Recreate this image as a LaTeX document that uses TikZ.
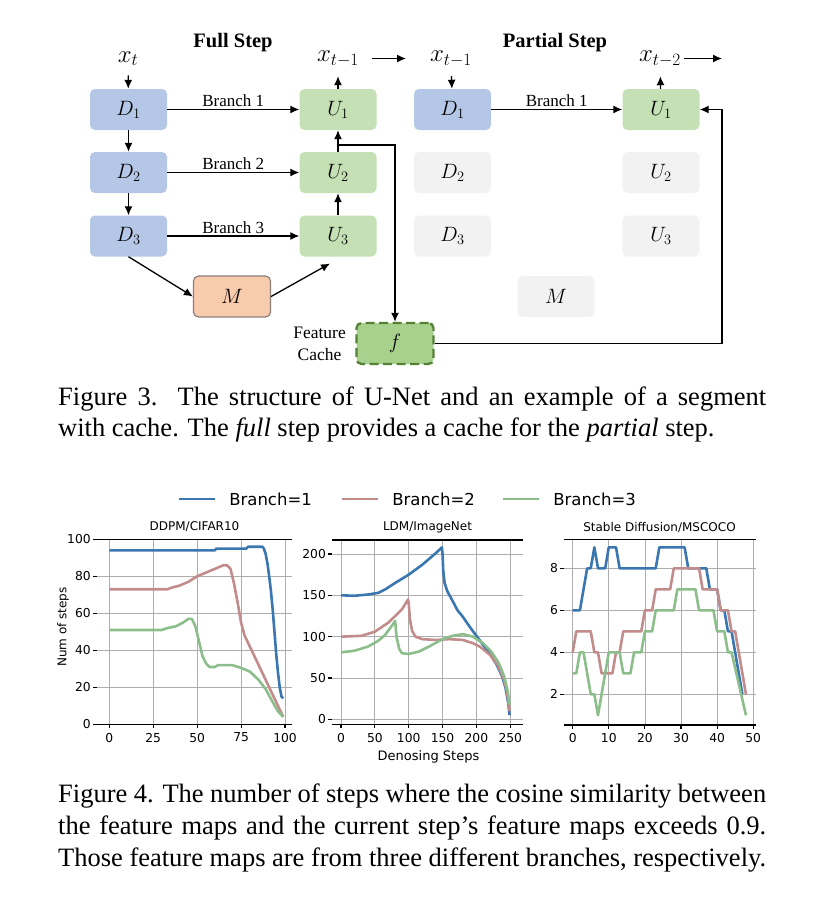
\documentclass[tikz,border=0pt]{standalone}
\usepackage{fontspec}
\setmainfont{Liberation Serif}
\newfontfamily\plotfont{DejaVu Sans}
\usepackage{amsmath}
\usepackage{tikz}
\usetikzlibrary{arrows.meta,positioning,calc}
\definecolor{DownBlue}{HTML}{B4C7E7}
\definecolor{UpGreen}{HTML}{C5E0B4}
\definecolor{MidOrange}{HTML}{F8CBAD}
\definecolor{MidEdge}{HTML}{8C7F7A}
\definecolor{SkipGray}{HTML}{F2F2F2}
\definecolor{CacheGreen}{HTML}{A9D18E}
\definecolor{CacheEdge}{HTML}{548235}
\definecolor{LineBlue}{RGB}{58,118,176}
\definecolor{LinePink}{RGB}{194,140,140}
\definecolor{LineGreen}{RGB}{140,190,140}

\begin{document}
\begin{tikzpicture}[x=1pt,y=-1pt,
  blk/.style={rounded corners=5pt,minimum width=77pt,minimum height=41pt,inner sep=0pt,font=\fontsize{19.5}{22}\selectfont},
  down/.style={blk,fill=DownBlue},
  up/.style={blk,fill=UpGreen},
  idle/.style={blk,fill=SkipGray},
  arr/.style={-{Latex[length=9pt,width=8pt]},line width=1.3pt},
  brlbl/.style={font=\fontsize{17}{19}\selectfont,inner sep=2pt},
  xlbl/.style={font=\fontsize{25}{27}\selectfont,anchor=base},
  hd/.style={font=\bfseries\fontsize{20.5}{24}\selectfont},
  capline/.style={anchor=base west,inner sep=0pt,font=\fontsize{26.5}{31}\selectfont},
  gridln/.style={black!32,line width=0.8pt},
  spine/.style={black,line width=1.1pt},
  ticklbl/.style={font=\plotfont\fontsize{12.3}{14}\selectfont,inner sep=0.5pt},
  ttl/.style={font=\plotfont\fontsize{12}{14}\selectfont,inner sep=0pt},
  legtxt/.style={font=\plotfont\fontsize{16.5}{18}\selectfont,text=black,inner sep=0pt,anchor=west,xshift=13pt},
  curve/.style={line width=2.6pt,line join=round}]
\useasboundingbox (0,0) rectangle (822,906);

\node[hd] (fullhd) at (233,43) {Full Step};
\node[hd] (parthd) at (555,43) {Partial Step};
\node[xlbl] (xt) at (128,62) {$x_t$};
\node[xlbl] (xt1) at (338,61.5) {$x_{t-1}$};
\node[xlbl] (pxt1) at (451,61.5) {$x_{t-1}$};
\node[xlbl] (pxt2) at (660,61.5) {$x_{t-2}$};

\foreach \i/\y in {1/109.5,2/172.5,3/236}{
  \node[down] (d\i) at (128.5,\y) {$D_\i$};
  \node[up] (u\i) at (338,\y) {$U_\i$};
  \draw[arr] (d\i) -- node[brlbl,above] (br\i) {Branch \i} (u\i);
}
\node[blk,fill=MidOrange,draw=MidEdge,line width=1.2pt] (mid) at (232,296.5) {$M$};

\node[down] (pd1) at (452.5,109.5) {$D_1$};
\node[up] (pu1) at (661,109.5) {$U_1$};
\foreach \i/\y in {2/172.5,3/236}{
  \node[idle] (pd\i) at (452.5,\y) {$D_\i$};
  \node[idle] (pu\i) at (661,\y) {$U_\i$};
}
\node[idle] (pmid) at (556,296.5) {$M$};
\draw[arr] (pd1) -- node[brlbl,above] (pbr1) {Branch 1} (pu1);

\node[blk,fill=CacheGreen,draw=CacheEdge,line width=2.3pt,dash pattern=on 9pt off 4.5pt] (cache) at (395,343.5) {$f$};
\node[left=6pt of cache,align=center,font=\fontsize{17.5}{22}\selectfont] (cachetxt) {Feature\\Cache};

\coordinate (u3in) at (330,263.5);
\coordinate (tap) at (338,145);
\coordinate (turn) at (722,343.5);
\coordinate (gofwd) at (406,58.5);
\coordinate (gonext) at (722,58.5);

\draw[arr,shorten <=6pt] (xt) -- (d1);
\draw[arr] (d1) -- (d2);
\draw[arr] (d2) -- (d3);
\draw[arr] (d3.south) -- (mid.west);
\draw[arr] (mid.east) -- (u3in);
\draw[arr] (u3) -- (u2);
\draw[arr] (u2) -- (u1);
\draw[arr,shorten >=6pt] (u1) -- (xt1);
\draw[arr] ([xshift=10pt]xt1.east |- gofwd) -- (gofwd);
\draw[arr,shorten <=6pt] (pxt1) -- (pd1);
\draw[arr,shorten >=6pt] (pu1) -- (pxt2);
\draw[arr] (pxt2.east |- gonext) -- (gonext);
\draw[arr] (tap) -| (cache);
\draw[arr] (cache) -- (turn) |- (pu1);

\node[capline] (cap3a) at (58,405) {\makebox[708pt][s]{Figure 3.\ \ The structure of U-Net and an example of a segment}};
\node[capline] (cap3b) at (58,436.7) {with cache. The \textit{full} step provides a cache for the \textit{partial} step.};

\foreach \c/\n/\a in {LineBlue/1/179,LinePink/2/342,LineGreen/3/503}{
  \draw[curve,\c] (\a,499) -- ++(36,0) node[legtxt] (leg\n) {Branch=\n};
}

\node[ttl] (t1) at (194.5,527) {DDPM/CIFAR10};
\node[ttl] (t2) at (427.5,527) {LDM/ImageNet};
\node[ttl] (t3) at (659.5,527) {Stable Diffusion/MSCOCO};
\node[ttl,rotate=90] (ylab) at (63,627) {Num of steps};
\node[ttl,font=\plotfont\fontsize{13}{15}\selectfont] (xlab) at (428.5,757) {Denosing Steps};

\begin{scope}[shift={(109.3,724.3)},x=1.757pt,y=1.85pt]
  \foreach \v in {0,25,...,100}{
    \draw[gridln] (\v,0) -- (\v,100);
    \draw[spine] (\v,0) -- (\v,-2.2);
    \node[ticklbl,anchor=north] (ax\v) at (\v,-4.3) {\v};
  }
  \foreach \v in {0,20,...,100}{
    \draw[gridln] (-7,\v) -- (104,\v);
    \draw[spine] (-7,\v) -- (-9.3,\v);
    \node[ticklbl,anchor=east] (ay\v) at (-10.2,\v) {\v};
  }
  \draw[spine] (-7,0) -- (104,0) (-7,100) -- (104,100);
  \draw[curve,LineBlue] plot coordinates {(0,94) (60,94) (61,95) (78,95) (79,96) (87,96) (88,95) (89,92) (90,87) (91,80) (92,72) (93,62) (94,50) (95,38) (96,28) (97,20) (98,15) (99,14)};
  \draw[curve,LinePink] plot coordinates {(0,73) (33,73) (36,74) (40,75) (45,77) (50,80) (55,82) (60,84) (65,86) (67,86) (69,84) (71,76) (73,66) (75,55) (77,48) (80,42) (83,36) (86,30) (90,22) (94,14) (97,8) (99,4)};
  \draw[curve,LineGreen] plot coordinates {(0,51) (30,51) (33,52) (38,53) (42,55) (45,57) (47,57) (49,53) (51,45) (53,37) (55,33) (57,31) (60,31) (62,32) (70,32) (75,30.5) (80,28.5) (85,24) (89,19) (93,12) (96,7) (99,4)};
\end{scope}

\begin{scope}[shift={(341,719.3)},x=0.677pt,y=0.8265pt]
  \foreach \v in {0,50,...,250}{
    \draw[gridln] (\v,-6.05) -- (\v,216.9);
    \draw[spine] (\v,-6.05) -- (\v,-10.9);
    \node[ticklbl,anchor=north] (bx\v) at (\v,-15.7) {\v};
  }
  \foreach \v in {0,50,...,200}{
    \draw[gridln] (-13.3,\v) -- (268.8,\v);
    \draw[spine] (-13.3,\v) -- (-19.2,\v);
    \node[ticklbl,anchor=east] (by\v) at (-21.3,\v) {\v};
  }
  \draw[spine] (-13.3,-6.05) -- (268.8,-6.05) (-13.3,216.9) -- (268.8,216.9);
  \draw[curve,LineBlue] plot coordinates {(0,150) (20,149.5) (40,151) (55,153) (65,157) (80,165) (100,175) (120,187) (140,201) (149,208) (150,200) (151,180) (153,165) (157,155) (165,143) (172,132) (180,124) (190,112) (200,101) (210,90) (220,79) (230,66) (238,52) (243,38) (247,20) (249,5)};
  \draw[curve,LinePink] plot coordinates {(0,100) (30,101) (50,106) (70,117) (90,133) (99,145) (100,140) (102,120) (105,107) (110,100) (120,97) (140,96) (160,97) (180,96) (195,92) (205,88) (220,78) (232,65) (240,50) (245,35) (249,10)};
  \draw[curve,LineGreen] plot coordinates {(0,81) (20,83) (40,88) (55,95) (65,102) (75,113) (80,119) (82,100) (86,85) (90,80) (100,79) (115,82) (130,88) (150,97) (165,101) (180,103) (195,100) (210,92) (222,82) (233,68) (241,52) (246,35) (249,18)};
\end{scope}

\begin{scope}[shift={(572.7,736.3)},x=3.61pt,y=21pt]
  \foreach \v in {0,10,...,50}{
    \draw[gridln] (\v,0.538) -- (\v,9.38);
    \draw[spine] (\v,0.538) -- (\v,0.348);
    \node[ticklbl,anchor=north] (cx\v) at (\v,0.19) {\v};
  }
  \foreach \v in {2,4,...,8}{
    \draw[gridln] (-2.41,\v) -- (50.8,\v);
    \draw[spine] (-2.41,\v) -- (-3.52,\v);
    \node[ticklbl,anchor=east] (cy\v) at (-3.9,\v) {\v};
  }
  \draw[spine] (-2.41,0.538) -- (50.8,0.538) (-2.41,9.38) -- (50.8,9.38);
  \draw[curve,LineBlue] plot coordinates {(0,6) (2,6) (3,7) (4,8) (5,8) (6,9) (7,8) (9,8) (10,9) (12,9) (13,8) (23,8) (24,9) (31,9) (32,8) (37,8) (38,7) (40,7) (41,6) (42,6) (43,5) (44,5) (47,2)};
  \draw[curve,LinePink] plot coordinates {(0,4) (1,5) (5,5) (6,4) (7,4) (8,3) (11,3) (12,4) (13,4) (14,5) (19,5) (20,6) (22,6) (23,7) (27,7) (28,8) (35,8) (36,7) (40,7) (41,6) (43,6) (44,5) (45,5) (48,2)};
  \draw[curve,LineGreen] plot coordinates {(0,3) (1,3) (2,4) (3,4) (4,3) (5,2) (6,2) (7,1) (8,2) (9,3) (10,4) (13,4) (14,3) (16,3) (17,4) (19,4) (20,5) (22,5) (23,6) (28,6) (29,7) (34,7) (35,6) (39,6) (40,5) (42,5) (43,4) (44,4) (48,1)};
\end{scope}

\node[capline] (cap4a) at (58,802.7) {\makebox[708pt][s]{Figure 4. The number of steps where the cosine similarity between}};
\node[capline] (cap4b) at (58,834.7) {\makebox[708pt][s]{the feature maps and the current step's feature maps exceeds 0.9.}};
\node[capline] (cap4c) at (58,866.7) {\makebox[708pt][s]{Those feature maps are from three different branches, respectively.}};
\end{tikzpicture}
\end{document}
